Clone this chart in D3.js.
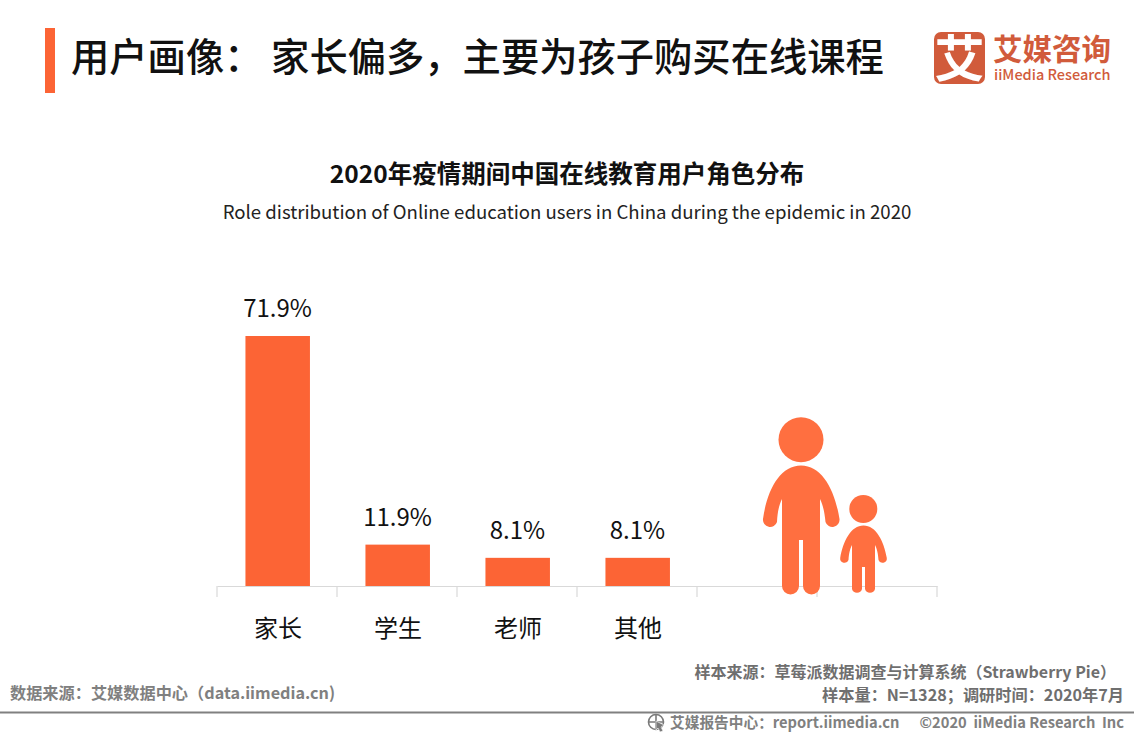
<!DOCTYPE html>
<html lang="zh"><head><meta charset="utf-8">
<script src="https://cdn.jsdelivr.net/npm/d3@7"></script>
<style>
html,body{margin:0;padding:0;background:#fff}
svg{display:block}
text{font-family:"Noto Sans CJK SC","Noto Sans",sans-serif}
</style></head><body><svg id="c" width="1134" height="737"></svg>
<script>
const categories = ["家长","学生","老师","其他"];
const blankBands = ["_a","_b"];
const values = [71.9,11.9,8.1,8.1];
const valueLabels = ["71.9%","11.9%","8.1%","8.1%"];

const svg = d3.select("#c");
const orange = "#FC6435", iconOrange = "#FF6F40", logo = "#D15B3B";

function label(x,y,t,size,fill,weight,anchor,ls){
  return svg.append("text").attr("x",x).attr("y",y).text(t)
    .attr("font-size",size).attr("fill",fill).attr("font-weight",weight||400)
    .attr("text-anchor",anchor||"start").attr("letter-spacing",ls||0);
}

// header
svg.append("rect").attr("x",45).attr("y",28).attr("width",10).attr("height",65).attr("fill",orange);
label(71,71,"用户画像： 家长偏多，主要为孩子购买在线课程",38.3,"#111",500);

// logo
svg.append("rect").attr("x",934).attr("y",32).attr("width",51).attr("height",52).attr("rx",7).attr("fill",logo);
label(959.5,77,"艾",50,"#fff",700,"middle");
label(993,60,"艾媒咨询",29.5,logo,700);
label(994,80,"iiMedia Research",14.5,logo,500);

// titles
label(567,183,"2020年疫情期间中国在线教育用户角色分布",24.5,"#111",700,"middle");
label(567,219,"Role distribution of Online education users in China during the epidemic in 2020",18.6,"#222",400,"middle");

// chart
const x = d3.scaleBand().domain(categories.concat(blankBands)).range([217,937]);
const y = d3.scaleLinear().domain([0,71.9]).range([586,336]);
const bw = 64.5;
const ax = d3.axisBottom(x).tickSizeInner(0).tickSizeOuter(0).tickFormat(d=>blankBands.includes(d)?"":d);
const axis = svg.append("g").attr("transform","translate(0,586)").call(ax);
axis.select(".domain").attr("stroke","#d9d9d9").attr("stroke-width",1.2);
axis.selectAll(".tick text").attr("x",1).attr("y",51).attr("dy",0).attr("font-size",24).attr("fill","#111").attr("font-family",'"Noto Sans CJK SC"');
svg.append("g").selectAll("line").data(x.domain().concat(["end"])).join("line")
  .attr("x1",d=>d==="end"?x.range()[1]:x(d)).attr("x2",d=>d==="end"?x.range()[1]:x(d))
  .attr("y1",586).attr("y2",597).attr("stroke","#d9d9d9").attr("stroke-width",1.2);

svg.append("g").selectAll("rect").data(values).join("rect")
  .attr("x",(d,i)=>x(categories[i])+x.bandwidth()/2-bw/2+0.7)
  .attr("width",bw).attr("y",d=>y(d)).attr("height",d=>y(0)-y(d)).attr("fill",orange);
svg.append("g").selectAll("text").data(values).join("text")
  .attr("x",(d,i)=>x(categories[i])+x.bandwidth()/2+0.5).attr("y",d=>y(d)-19)
  .attr("text-anchor","middle").attr("font-size",24).attr("fill","#111")
  .attr("font-family",'"Noto Sans","Noto Sans CJK SC"')
  .text((d,i)=>valueLabels[i]);

// decorative people icon
const icon = svg.append("g").attr("fill",iconOrange);
icon.append("circle").attr("cx",801).attr("cy",439.7).attr("r",22.5);
icon.append("path").attr("d","M801 465.5C822 465.5 835 490 839.5 519A7.2 7.2 0 0 1 825.5 522C824.5 512 823 505 820 499L820 586A8.5 8.5 0 0 1 803 586L803 540L799 540L799 586A8.5 8.5 0 0 1 782 586L782 499C779 505 777.5 512 777 522A7.2 7.2 0 0 1 763 519C767 490 780 465.5 801 465.5Z");
icon.append("circle").attr("cx",863.3).attr("cy",509).attr("r",14);
icon.append("path").attr("d","M863.5 525.5C876 525.5 884 541 886.8 558A4.3 4.3 0 0 1 878.5 560C878 553 877 549 875 545L875 589A5.2 5.2 0 0 1 865 589L865 567L862 567L862 589A5.2 5.2 0 0 1 852 589L852 545C850 549 849 553 848.5 560A4.3 4.3 0 0 1 840.2 558C843 541 851 525.5 863.5 525.5Z");

// footer
const grey="#6f6f6f";
label(10,699,"数据来源：艾媒数据中心（data.iimedia.cn)",16.2,"#808080",700);
label(1116,678,"样本来源：草莓派数据调查与计算系统（Strawberry Pie）",16,grey,700,"end");
label(1124,701,"样本量：N=1328；调研时间：2020年7月",16.2,grey,700,"end");
svg.append("rect").attr("x",0).attr("y",711.5).attr("width",1134).attr("height",2).attr("fill","#808080");
label(670,728,"艾媒报告中心：report.iimedia.cn",14.7,"#808080",700);
label(1124,728,"©2020\u00a0\u00a0iiMedia Research\u00a0\u00a0Inc",14.7,"#808080",700,"end");
const g=svg.append("g").attr("fill","none").attr("stroke","#7a7a7a").attr("stroke-width",1.6);
g.append("circle").attr("cx",656).attr("cy",722).attr("r",7.5);
g.append("path").attr("d","M649 722H663M656 715V729");
svg.append("path").attr("d","M656 721L664 725L661 727L663 731L660 732L658 728L656 730Z").attr("fill","#7a7a7a").attr("stroke","#fff").attr("stroke-width",.6);
</script></body></html>
